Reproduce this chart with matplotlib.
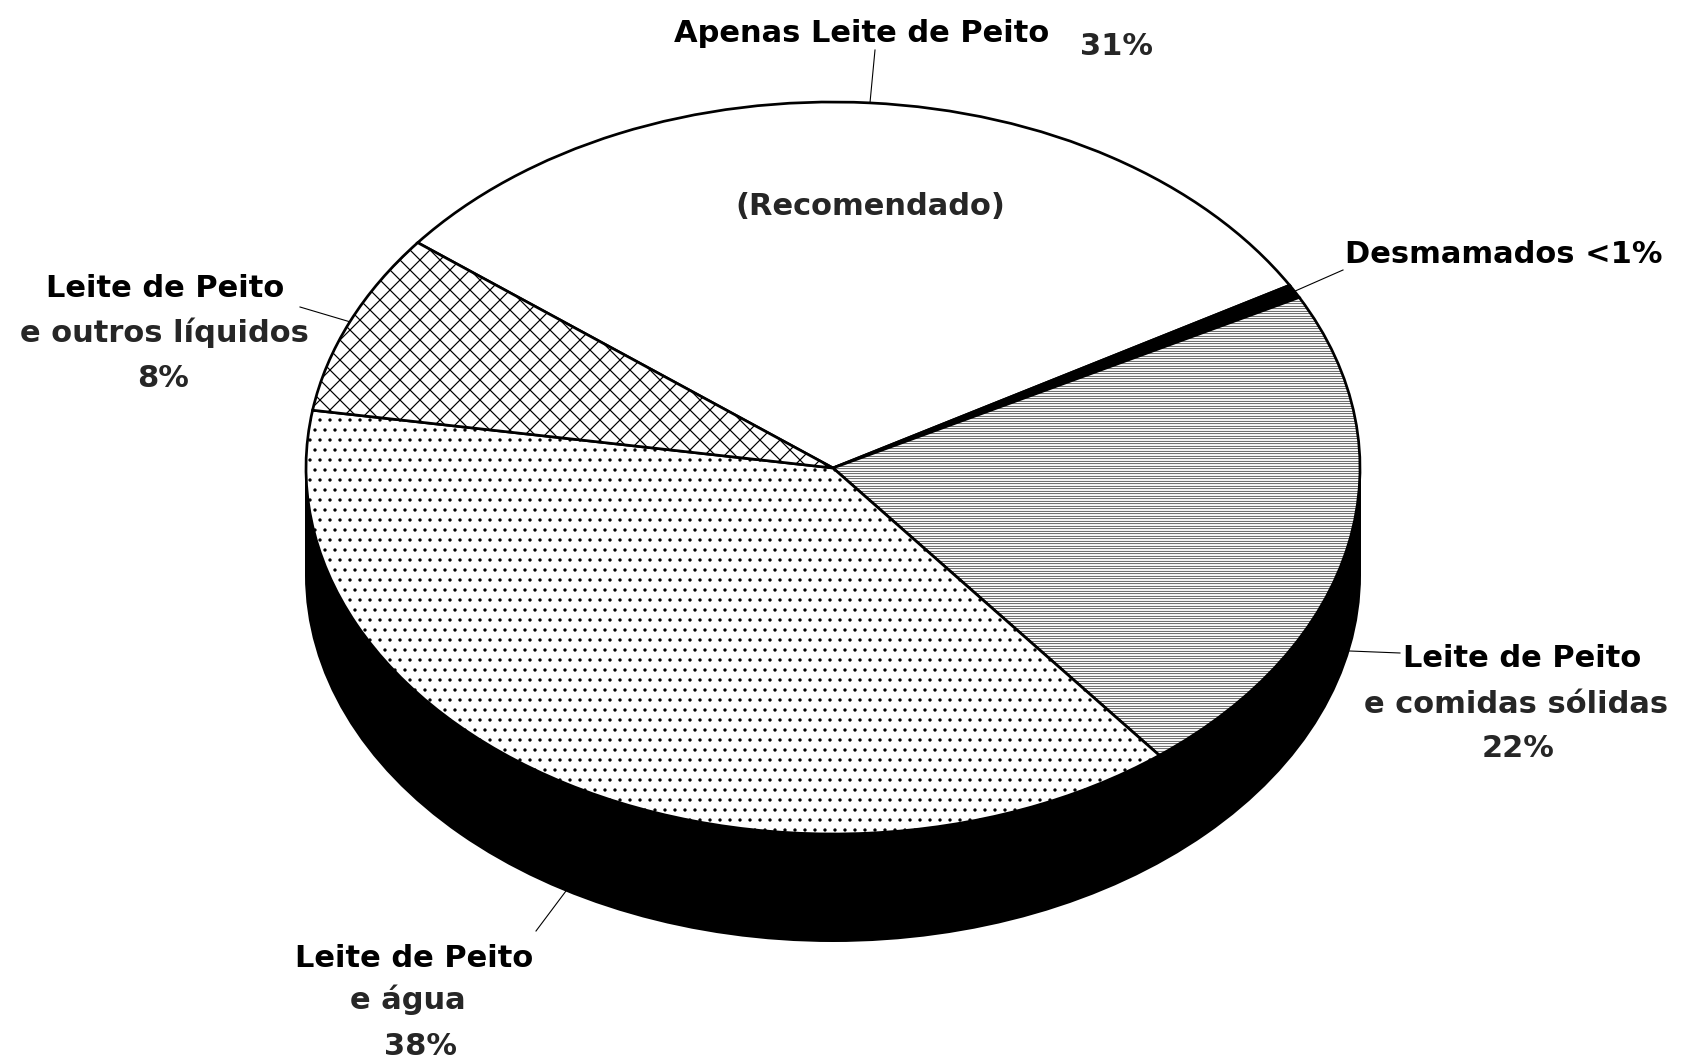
import numpy as np
import matplotlib
matplotlib.use("Agg")
import matplotlib.pyplot as plt
from matplotlib.patches import Ellipse, Rectangle

# ---------------- data ----------------
categories = ["Apenas Leite de Peito", "Desmamados",
              "Leite de Peito e comidas sólidas", "Leite de Peito e água",
              "Leite de Peito e outros líquidos"]
values = [31, 0.6, 22, 38, 8]
pct_labels = ["31%", "<1%", "22%", "38%", "8%"]

# ---------------- style ----------------
DPI = 120
PX = 72.0 / DPI        # points per pixel

hatches = ["", "", "--------", "..", "xx"]
hatch_lws_px = [1.0, 1.0, 0.6, 1.3, 1.2]
facecolors = ["white", "black", "white", "white", "white"]

plt.rcParams["hatch.linewidth"] = 1.0 * PX
plt.rcParams["font.family"] = ["DejaVu Sans"]

W, H = 1682, 1062
CX, CY = 833, 468      # centre of top face (px)
RX, RY = 527, 366      # ellipse semi-axes (px)
DEPTH = 107            # pie thickness (px)


def d(xp, yp):
    """pixel -> data coordinates"""
    return ((xp - CX) / RX, (CY - yp) / RY)


fig = plt.figure(figsize=(W / DPI, H / DPI), dpi=DPI)
ax = fig.add_axes([0, 0, 1, 1])

wedges, _ = ax.pie(values, startangle=142, counterclock=False, radius=1,
                   center=(0, 0), colors=facecolors,
                   wedgeprops=dict(edgecolor="black", linewidth=2.7 * PX))
for w, h, hl in zip(wedges, hatches, hatch_lws_px):
    w.set_hatch(h)
    if hasattr(w, "set_hatch_linewidth"):
        try:
            w.set_hatch_linewidth(hl * PX)
        except Exception:
            pass
    w.set_zorder(3)

dd = DEPTH / RY
ax.add_patch(Ellipse((0, -dd), 2, 2, facecolor="black", edgecolor="black",
                     lw=2 * PX, zorder=1))
ax.add_patch(Rectangle((-1, -dd), 2, dd, facecolor="black", edgecolor="black",
                       lw=2 * PX, zorder=1))

ax.set_aspect("auto")
ax.set_xlim(d(0, 0)[0], d(W, 0)[0])
ax.set_ylim(d(0, H)[1], d(0, 0)[1])
ax.axis("off")

# ---------------- labels ----------------
FS = 30.5 * PX
BLACK, GREY = "#000000", "#262626"

# (text, centre-x px, baseline px, colour)
label_lines = [
    [("Apenas Leite de Peito", 862, 42, BLACK), ("31%", 1117, 55, GREY)],
    [("Desmamados <1%", 1504, 263, BLACK)],
    [("Leite de Peito", 1522, 667, BLACK), ("e comidas sólidas", 1516, 713, GREY),
     ("22%", 1518, 757, GREY)],
    [("Leite de Peito", 414, 967, BLACK), ("e água", 408, 1009, GREY),
     ("38%", 421, 1055, GREY)],
    [("Leite de Peito", 165, 297, BLACK), ("e outros líquidos", 164, 342, GREY),
     ("8%", 163, 387, GREY)],
]
# outer end of each leader line (px)
leader_ends = [(875, 50), (1343, 270), (1400, 653), (536, 931), (300, 307)]

for w, lines, end in zip(wedges, label_lines, leader_ends):
    for txt, xp, yp, col in lines:
        x, y = d(xp, yp)
        ax.text(x, y, txt, ha="center", va="baseline", fontsize=FS,
                fontweight="bold", color=col, zorder=5)
    mid = np.deg2rad((w.theta1 + w.theta2) / 2)
    sx, sy = np.cos(mid), np.sin(mid)
    if sy < 0:
        sy -= dd
    ex, ey = d(*end)
    ax.plot([sx, ex], [sy, ey], color="black", lw=1.1 * PX, zorder=4)

ax.text(*d(870, 215), "(Recomendado)", ha="center", va="baseline", fontsize=FS,
        fontweight="bold", color=GREY, zorder=5)

fig.savefig("out.png", dpi=DPI)
